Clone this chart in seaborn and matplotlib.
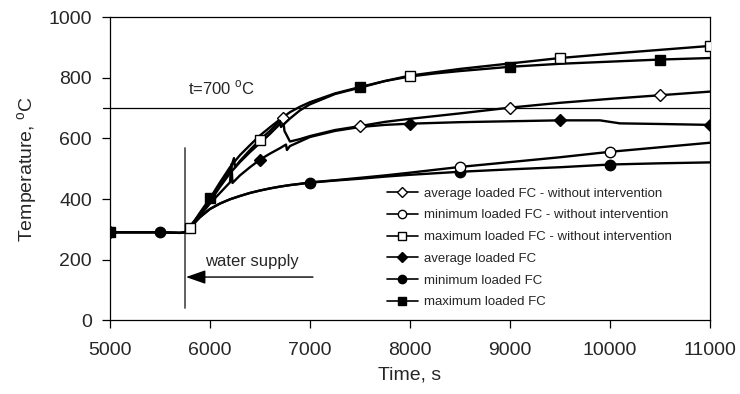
import numpy as np
import pandas as pd
import matplotlib
matplotlib.use("Agg")
import matplotlib.pyplot as plt
from matplotlib.lines import Line2D
import seaborn as sns

sns.set_theme(style="ticks")
plt.rcParams['font.family'] = ['Liberation Sans', 'DejaVu Sans']

# --- data (time in s, temperature in degC) ---
t_max = [5000, 5250, 5500, 5700, 5750, 5800, 5900, 6000, 6100, 6200, 6300, 6400, 6500,
         6600, 6700, 6800, 6900, 7000, 7250, 7500, 7750, 8000, 8250, 8500, 9000, 9500,
         10000, 10500, 11000]
T_max = [290, 290, 290, 288, 290, 305, 355, 402, 455, 505, 545, 578, 610,
         637, 663, 687, 705, 720, 749, 770, 790, 805, 815, 823, 837, 847,
         854, 861, 866]
mk_max = [5000, 6000, 7500, 9000, 10500]

t_max_wo = [5800, 5900, 6000, 6100, 6200, 6240, 6250, 6300, 6400, 6500, 6600, 6700, 6710,
            6800, 6900, 7000, 7250, 7500, 7750, 8000, 8500, 9000, 9500, 10000, 10500, 11000]
T_max_wo = [305, 350, 395, 445, 495, 535, 505, 526, 562, 596, 625, 658, 638,
            666, 693, 713, 747, 768, 790, 808, 830, 848, 866, 880, 893, 906]
mk_max_wo = [5800, 6500, 8000, 9500, 11000]

t_avg = [5000, 5250, 5500, 5700, 5750, 5800, 5900, 6000, 6100, 6200, 6215, 6225, 6300,
         6400, 6500, 6600, 6700, 6760, 6770, 6800, 6900, 7000, 7250, 7500, 7750, 8000,
         8500, 9000, 9500, 9900, 10100, 10500, 11000]
T_avg = [290, 290, 290, 288, 290, 305, 345, 385, 420, 455, 515, 453, 478,
         505, 530, 550, 568, 580, 562, 575, 590, 605, 625, 638, 645, 649,
         654, 657, 660, 660, 650, 648, 645]
mk_avg = [5000, 6500, 8000, 9500, 11000]

t_avg_wo = [5800, 5900, 6000, 6100, 6200, 6300, 6400, 6500, 6600, 6700, 6730, 6745, 6800,
            6900, 7000, 7250, 7500, 7750, 8000, 8500, 9000, 9500, 10000, 10500, 11000]
T_avg_wo = [310, 350, 392, 440, 485, 522, 555, 585, 615, 648, 668, 625, 590,
            598, 608, 628, 641, 655, 665, 683, 702, 718, 731, 743, 755]
mk_avg_wo = [6730, 7500, 9000, 10500]

t_min = [5000, 5250, 5500, 5700, 5750, 5800, 5900, 6000, 6100, 6200, 6300, 6400, 6500,
         6600, 6700, 6800, 6900, 7000, 7250, 7500, 7750, 8000, 8500, 9000, 9500, 10000,
         10500, 11000]
T_min = [290, 290, 290, 288, 290, 305, 340, 367, 385, 399, 410, 420, 428,
         435, 441, 446, 450, 454, 461, 467, 474, 480, 490, 498, 505, 514,
         518, 521]
mk_min = [5000, 5500, 7000, 8500, 10000]

t_min_wo = [5800, 5900, 6000, 6100, 6200, 6300, 6400, 6500, 6600, 6700, 6800, 6900, 7000,
            7250, 7500, 7750, 8000, 8500, 9000, 9500, 10000, 10500, 11000]
T_min_wo = [305, 340, 367, 385, 399, 410, 420, 428, 435, 441, 446, 450, 455,
            462, 470, 478, 487, 506, 522, 538, 556, 571, 586]
mk_min_wo = [8500, 10000]

series = [
    ("average loaded FC - without intervention", t_avg_wo, T_avg_wo, mk_avg_wo, "D", "white"),
    ("minimum loaded FC - without intervention", t_min_wo, T_min_wo, mk_min_wo, "o", "white"),
    ("maximum loaded FC - without intervention", t_max_wo, T_max_wo, mk_max_wo, "s", "white"),
    ("average loaded FC", t_avg, T_avg, mk_avg, "D", "black"),
    ("minimum loaded FC", t_min, T_min, mk_min, "o", "black"),
    ("maximum loaded FC", t_max, T_max, mk_max, "s", "black"),
]
msize = {"D": 6.5, "o": 7.5, "s": 7.0}

fig = plt.figure(figsize=(7.4, 3.94), dpi=100)
ax = fig.add_axes([0.1486, 0.1878, 0.8108, 0.7678])

handles = []
# draw the loaded curves first, then the "without intervention" ones on top
for name, t, T, mk, marker, face in series[3:] + series[:3]:
    df = pd.DataFrame({"time": t, "temp": T})
    mask = list(np.isin(df["time"], mk))
    sns.lineplot(data=df, x="time", y="temp", ax=ax, color="black", lw=1.7,
                 estimator=None, sort=False, legend=False,
                 marker=marker, markevery=mask, markersize=msize[marker],
                 markerfacecolor=face, markeredgecolor="black", markeredgewidth=1.0,
                 zorder=3)
for name, t, T, mk, marker, face in series:
    handles.append(Line2D([], [], color="black", lw=1.2, marker=marker,
                          markersize=msize[marker] - 1.5, markerfacecolor=face,
                          markeredgecolor="black", label=name))

# threshold line
ax.plot([4930, 11000], [700, 700], color="black", lw=0.9, clip_on=False, zorder=2)
ax.text(5780, 735, "t=700 $^{\\mathregular{o}}$C", fontsize=12, va="bottom", ha="left")

# water supply marker
ax.plot([5750, 5750], [40, 570], color="#555555", lw=1.3, zorder=2)
ax.annotate("", xy=(5760, 142), xytext=(7030, 142),
            arrowprops=dict(arrowstyle="-|>,head_length=1.0,head_width=0.35",
                            color="black", lw=1.0, shrinkA=0, shrinkB=0))
ax.text(5950, 168, "water supply", fontsize=12, va="bottom", ha="left")

ax.set_xlim(5000, 11000)
ax.set_ylim(0, 1000)
ax.set_xticks(range(5000, 11001, 1000))
ax.set_yticks(range(0, 1001, 200))
ax.set_xlabel("Time, s", fontsize=14, labelpad=5)
ax.set_ylabel("Temperature, $^{\\mathregular{o}}$C", fontsize=14, labelpad=6)
ax.tick_params(axis="x", labelsize=14, length=6, width=0.9, pad=10, color="black")
ax.tick_params(axis="y", labelsize=14, length=6, width=0.9, pad=7, color="black")
for sp in ax.spines.values():
    sp.set_visible(True)
    sp.set_color("black")
    sp.set_linewidth(0.9)

ax.legend(handles=handles, loc="upper left", bbox_to_anchor=(0.462, 0.438),
          frameon=False, fontsize=9.5, handlelength=2.3, handletextpad=0.5,
          labelspacing=0.72, borderpad=0, borderaxespad=0)

plt.savefig("out.png", dpi=100)
plt.close()
